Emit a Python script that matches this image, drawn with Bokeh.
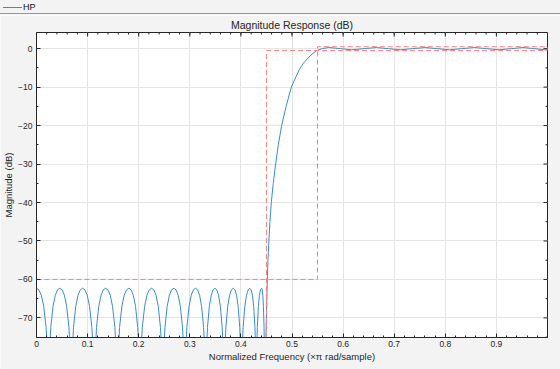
from bokeh.plotting import figure
from bokeh.layouts import column
from bokeh.models import Range1d, FixedTicker, ColumnDataSource, Div
from bokeh.embed import file_html
from bokeh.resources import INLINE

# ---------------- data ----------------
stop_freq = [
    0.0000, 0.0047, 0.0094, 0.0141, 0.0188, 0.0207, 0.0235,
    0.0262, 0.0279, 0.0323, 0.0368, 0.0412, 0.0456, 0.0501, 0.0546, 0.0590, 0.0635, 0.0653, 0.0680,
    0.0707, 0.0724, 0.0768, 0.0813, 0.0857, 0.0901, 0.0947, 0.0993, 0.1038, 0.1084, 0.1102, 0.1130,
    0.1157, 0.1174, 0.1218, 0.1263, 0.1307, 0.1351, 0.1397, 0.1443, 0.1488, 0.1534, 0.1552, 0.1580,
    0.1607, 0.1625, 0.1671, 0.1716, 0.1762, 0.1807, 0.1851, 0.1894, 0.1938, 0.1981, 0.1999, 0.2025,
    0.2052, 0.2070, 0.2116, 0.2161, 0.2207, 0.2252, 0.2296, 0.2339, 0.2383, 0.2426, 0.2444, 0.2470,
    0.2496, 0.2514, 0.2557, 0.2601, 0.2644, 0.2688, 0.2730, 0.2773, 0.2815, 0.2858, 0.2875, 0.2900,
    0.2926, 0.2943, 0.2985, 0.3028, 0.3070, 0.3113, 0.3152, 0.3192, 0.3231, 0.3271, 0.3286, 0.3310,
    0.3332, 0.3346, 0.3382, 0.3419, 0.3455, 0.3491, 0.3527, 0.3563, 0.3598, 0.3634, 0.3648, 0.3670,
    0.3692, 0.3706, 0.3742, 0.3779, 0.3815, 0.3851, 0.3883, 0.3915, 0.3946, 0.3978, 0.3991, 0.4010,
    0.4030, 0.4043, 0.4076, 0.4110, 0.4143, 0.4176, 0.4201, 0.4226, 0.4250, 0.4275, 0.4285, 0.4300,
    0.4313, 0.4321, 0.4342, 0.4363, 0.4384, 0.4405, 0.4417, 0.4429, 0.4441, 0.4453, 0.4458, 0.4465,
]
stop_db = [
    -62.3, -62.7, -64.1, -67.0, -72.5, -77.0, -100.0,
    -77.0, -72.5, -67.0, -64.1, -62.7, -62.3, -62.7, -64.1, -67.0, -72.5, -77.0, -100.0,
    -77.0, -72.5, -67.0, -64.1, -62.7, -62.3, -62.7, -64.1, -67.0, -72.5, -77.0, -100.0,
    -77.0, -72.5, -67.0, -64.1, -62.7, -62.3, -62.7, -64.1, -67.0, -72.5, -77.0, -100.0,
    -77.0, -72.5, -67.0, -64.1, -62.7, -62.3, -62.7, -64.1, -67.0, -72.5, -77.0, -100.0,
    -77.0, -72.5, -67.0, -64.1, -62.7, -62.3, -62.7, -64.1, -67.0, -72.5, -77.0, -100.0,
    -77.0, -72.5, -67.0, -64.1, -62.7, -62.3, -62.7, -64.1, -67.0, -72.5, -77.0, -100.0,
    -77.0, -72.5, -67.0, -64.1, -62.7, -62.3, -62.7, -64.1, -67.0, -72.5, -77.0, -100.0,
    -77.0, -72.5, -67.0, -64.1, -62.7, -62.3, -62.7, -64.1, -67.0, -72.5, -77.0, -100.0,
    -77.0, -72.5, -67.0, -64.1, -62.7, -62.3, -62.7, -64.1, -67.0, -72.5, -77.0, -100.0,
    -77.0, -72.5, -67.0, -64.1, -62.7, -62.3, -62.7, -64.1, -67.0, -72.5, -77.0, -100.0,
    -77.0, -72.5, -67.0, -64.1, -62.7, -62.3, -62.7, -64.1, -67.0, -72.5, -77.0, -100.0,
]
trans_freq = [0.4490, 0.4517, 0.4530, 0.4548, 0.4568, 0.4595, 0.4633, 0.4680, 0.4732,
              0.4797, 0.4885, 0.4987, 0.5137, 0.5220, 0.5332, 0.5410, 0.5496, 0.5600]
trans_db = [-75.0, -60.0, -55.0, -50.0, -45.0, -40.0, -35.0, -30.0, -25.0,
            -20.0, -15.0, -10.0, -5.6, -3.8, -2.2, -1.2, -0.45, 0.05]
pass_freq = [0.572, 0.595, 0.617, 0.641, 0.665, 0.689, 0.712, 0.736, 0.760, 0.784,
             0.808, 0.832, 0.857, 0.881, 0.905, 0.929, 0.952, 0.974, 0.995, 1.000]
pass_db = [0.30, 0.00, -0.30, 0.00, 0.30, 0.00, -0.30, 0.00, 0.30, 0.00,
           -0.30, 0.00, 0.30, 0.00, -0.30, 0.00, 0.30, 0.00, -0.30, -0.30]

mask_freq = [0.0, 0.55, 0.55, 1.0, 1.0, 0.45, 0.45]
mask_db = [-60.0, -60.0, 0.5, 0.5, -0.5, -0.5, -90.0]

x_ticks = [0, 0.1, 0.2, 0.3, 0.4, 0.5, 0.6, 0.7, 0.8, 0.9]
x_tick_labels = ["0", "0.1", "0.2", "0.3", "0.4", "0.5", "0.6", "0.7", "0.8", "0.9"]
y_ticks = [-70, -60, -50, -40, -30, -20, -10, 0]
series_name = "HP"
title_text = "Magnitude Response (dB)"
x_label = "Normalized Frequency (\u00d7\u03c0 rad/sample)"
y_label = "Magnitude (dB)"

# ---------------- styling ----------------
BG = "#f3f3f3"
INK = "#262626"
BLUE = "#3a8bd0"
RED = "#ff7f7f"
FONT = "Liberation Sans"
W = 560
BAR_H = 15
MAIN_H = 354
X0, X1 = 0.0, 1.0
Y0, Y1 = -75.1, 4.2
FRAME_W = 511
FRAME_H = 305

freq = stop_freq + trans_freq + pass_freq
mag_db = stop_db + trans_db + pass_db

# ---------------- legend bar (HTML strip above the axes) ----------------
bar_html = (
    f'<div style="position:relative;width:{W}px;height:{BAR_H - 1}px;background:{BG};'
    f'border-bottom:1px solid #9a9a9a;font-family:\'{FONT}\';font-size:9px;color:#111111;">'
    f'<div style="position:absolute;left:3px;top:7px;width:19px;height:0;'
    f'border-top:1px solid {BLUE};"></div>'
    f'<div style="position:absolute;left:23px;top:1px;line-height:12px;">{series_name}</div>'
    f'</div>'
)
bar = Div(text=bar_html, width=W, height=BAR_H, margin=0,
          styles={"background-color": BG, "padding": "0", "margin": "0"})

# ---------------- main plot ----------------
p = figure(width=W, height=MAIN_H, x_range=Range1d(X0, X1), y_range=Range1d(Y0, Y1),
           toolbar_location=None, output_backend="svg", title=title_text,
           background_fill_color="white", border_fill_color=BG,
           outline_line_color=INK, outline_line_width=1,
           min_border_left=36, min_border_right=13, min_border_top=17, min_border_bottom=32)

p.title.align = "center"
p.title.text_font = FONT
p.title.text_font_size = "10.5px"
p.title.text_font_style = "normal"
p.title.text_color = INK
p.title.standoff = 3

x_minor = [i / 50 for i in range(51)]
y_minor = [-75, -65, -55, -45, -35, -25, -15, -5]
xt = FixedTicker(ticks=x_ticks, minor_ticks=x_minor)
yt = FixedTicker(ticks=y_ticks, minor_ticks=y_minor)

p.xaxis.ticker = xt
p.yaxis.ticker = yt
p.xaxis.major_label_overrides = dict(zip(x_ticks, x_tick_labels))
p.xaxis.axis_label = x_label
p.yaxis.axis_label = y_label

for ax in p.axis:
    ax.major_tick_in = 4
    ax.major_tick_out = 0
    ax.minor_tick_in = 2
    ax.minor_tick_out = 0
    ax.axis_line_color = INK
    ax.major_tick_line_color = INK
    ax.minor_tick_line_color = INK
    ax.major_label_text_font = FONT
    ax.major_label_text_color = INK
    ax.major_label_text_font_size = "8.5px"
    ax.axis_label_text_font = FONT
    ax.axis_label_text_font_size = "9.5px"
    ax.axis_label_text_font_style = "normal"
    ax.axis_label_text_color = INK
p.xaxis.major_label_standoff = 3
p.xaxis.axis_label_standoff = 1
p.yaxis.major_label_standoff = 4
p.yaxis.axis_label_standoff = 1

p.grid.grid_line_color = "#e4e4e4"
p.grid.grid_line_width = 1

# box ticks on the top and right edges (inward, like the bottom/left axes)
dy_major = 4 * (Y1 - Y0) / FRAME_H
dy_minor = 2 * (Y1 - Y0) / FRAME_H
dx_major = 4 * (X1 - X0) / FRAME_W
dx_minor = 2 * (X1 - X0) / FRAME_W
p.segment(x0=x_ticks, x1=x_ticks, y0=[Y1] * len(x_ticks), y1=[Y1 - dy_major] * len(x_ticks),
          line_color=INK, line_width=1)
p.segment(x0=x_minor, x1=x_minor, y0=[Y1] * len(x_minor), y1=[Y1 - dy_minor] * len(x_minor),
          line_color=INK, line_width=1)
p.segment(x0=[X1] * len(y_ticks), x1=[X1 - dx_major] * len(y_ticks), y0=y_ticks, y1=y_ticks,
          line_color=INK, line_width=1)
p.segment(x0=[X1] * len(y_minor), x1=[X1 - dx_minor] * len(y_minor), y0=y_minor, y1=y_minor,
          line_color=INK, line_width=1)

src = ColumnDataSource(dict(freq=freq, mag_db=mag_db))
p.line("freq", "mag_db", source=src, line_color=BLUE, line_width=1)
p.line(mask_freq, mask_db, line_color=RED, line_width=1, line_dash="5 3")

layout = column(bar, p, spacing=0)
open("out.html", "w").write(file_html(layout, INLINE))
